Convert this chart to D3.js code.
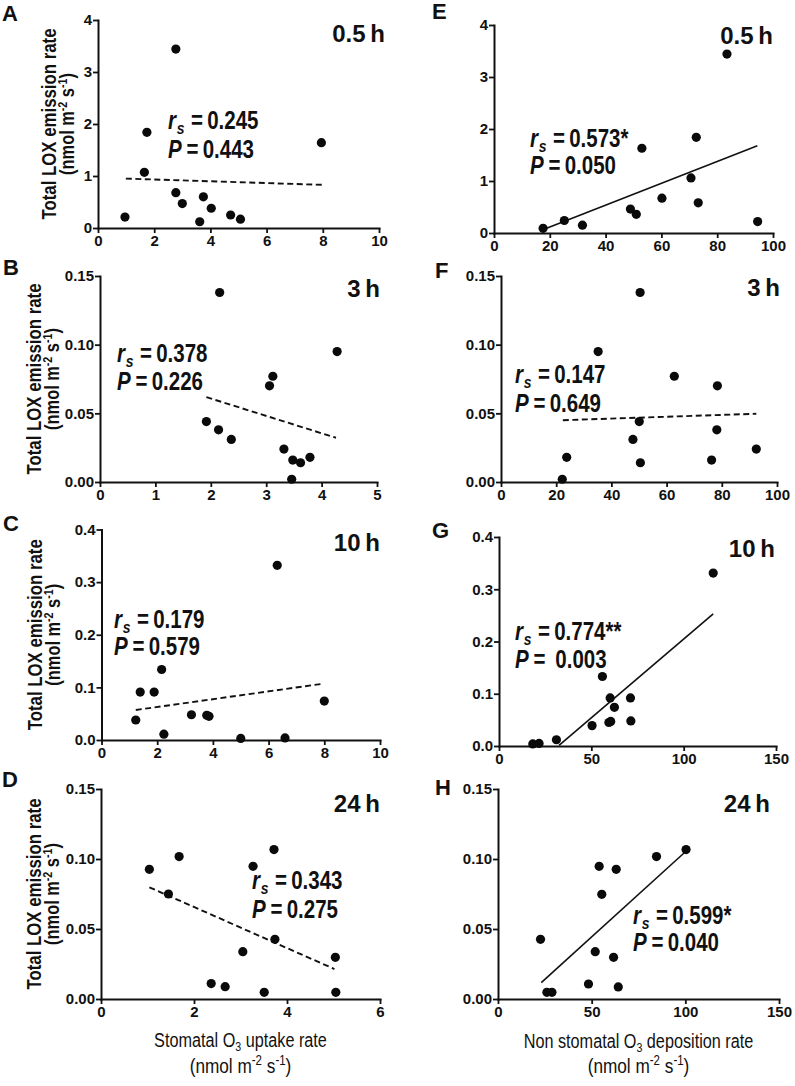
<!DOCTYPE html>
<html><head><meta charset="utf-8">
<script src="https://cdn.jsdelivr.net/npm/d3@7"></script>
<style>
body{margin:0;background:#fff}
svg{display:block}
text{font-family:"Liberation Sans",Arial,Helvetica,sans-serif;fill:#111}
</style>
</head><body>
<svg id="chart" width="795" height="1086"></svg>
<script>
// ---------------- DATA ----------------
const panelIds   = ["A","B","C","D","E","F","G","H"];
const timeLabels = ["0.5\u2009h","3\u2009h","10\u2009h","24\u2009h","0.5\u2009h","3\u2009h","10\u2009h","24\u2009h"];
const rsLabels   = ["0.245","0.378","0.179","0.343","0.573*","0.147","0.774**","0.599*"];
const pLabels    = ["0.443","0.226","0.579","0.275","0.050","0.649","\u00a00.003","0.040"];
const fitKinds   = ["dashed","dashed","dashed","dashed","solid","dashed","solid","solid"];

// stomatal O3 uptake (left column)
const xA = [0.96,1.65,1.74,2.77,2.77,3.00,3.62,3.75,4.03,4.72,5.07,7.95];
const yA = [0.21,1.07,1.84,3.44,0.68,0.47,0.12,0.60,0.38,0.25,0.17,1.64];
const xB = [1.92,2.14,2.16,2.37,3.06,3.12,3.32,3.48,3.46,3.62,3.79,4.28];
const yB = [0.044,0.038,0.138,0.031,0.070,0.077,0.024,0.016,0.002,0.014,0.018,0.095];
const xC = [1.23,1.39,1.89,2.16,2.24,3.23,3.78,3.86,5.00,6.31,6.59,8.00];
const yC = [0.038,0.091,0.091,0.134,0.011,0.048,0.047,0.045,0.003,0.332,0.004,0.074];
const xD = [1.04,1.45,1.68,2.37,2.67,3.05,3.27,3.51,3.72,3.74,5.04,5.05];
const yD = [0.0926,0.075,0.1017,0.011,0.0088,0.0338,0.0948,0.0048,0.1067,0.0426,0.0298,0.0048];
// non stomatal O3 deposition (right column)
const xE = [17.6,25.2,31.7,48.9,51.0,53.0,60.2,70.6,72.5,73.2,83.5,94.5];
const yE = [0.09,0.24,0.15,0.46,0.36,1.63,0.67,1.06,1.84,0.58,3.44,0.22];
const xF = [22.2,23.8,35.2,47.8,50.1,50.4,50.5,62.8,76.3,78.4,78.2,92.5];
const yF = [0.002,0.018,0.095,0.031,0.044,0.138,0.014,0.077,0.016,0.070,0.038,0.024];
const xG = [18.3,21.7,31.1,50.4,56.0,59.5,60.5,60.2,62.5,71.2,71.4,116.0];
const yG = [0.004,0.005,0.012,0.039,0.133,0.045,0.047,0.092,0.074,0.092,0.048,0.331];
const xH = [22.7,26.1,28.8,48.3,51.9,54.0,55.4,61.7,63.1,64.2,84.6,100.4];
const yH = [0.0426,0.0048,0.0048,0.0107,0.0338,0.0948,0.0748,0.0298,0.0926,0.0086,0.1017,0.1067];

// fitted regression line end points [[x1,y1],[x2,y2]]
const fitA = [[0.99,0.95],[7.98,0.83]];
const fitB = [[1.92,0.0618],[4.26,0.0322]];
const fitC = [[1.23,0.057],[7.96,0.107]];
const fitD = [[1.04,0.0798],[5.02,0.0214]];
const fitE = [[18.4,0.08],[94.4,1.68]];
const fitF = [[22.4,0.045],[92.5,0.0497]];
const fitG = [[32.5,0.001],[116.0,0.253]];
const fitH = [[23.1,0.0117],[99.9,0.105]];

// axis ticks
const xTicksA = [0,2,4,6,8,10],  yTicksA = [0,1,2,3,4];
const xTicksB = [0,1,2,3,4,5],   yTicksB = [0,0.05,0.10,0.15];
const xTicksC = [0,2,4,6,8,10],  yTicksC = [0,0.1,0.2,0.3,0.4];
const xTicksD = [0,2,4,6],       yTicksD = [0,0.05,0.10,0.15];
const xTicksE = [0,20,40,60,80,100], yTicksE = [0,1,2,3,4];
const xTicksF = [0,20,40,60,80,100], yTicksF = [0,0.05,0.10,0.15];
const xTicksG = [0,50,100,150],  yTicksG = [0,0.1,0.2,0.3,0.4];
const xTicksH = [0,50,100,150],  yTicksH = [0,0.05,0.10,0.15];
const yFormats = ["d",".2f",".1f",".2f","d",".2f",".1f",".2f"];

const yTitle1 = "Total LOX emission rate";
const xTitleLeft  = ["Stomatal O", "3", " uptake rate"];
const xTitleRight = ["Non stomatal O", "3", " deposition rate"];

// ---------------- LAYOUT ----------------
const layout = [
  {l:98,  r:379, t:20,  b:228, tx:385, ty:42,    lx:2,   ly:21,  sx:168, sy1:129,   sy2:158,   yl:56},
  {l:100, r:377, t:276, b:482, tx:380, ty:296.7, lx:3,   ly:275, sx:117, sy1:361.7, sy2:390,   yl:41},
  {l:101.5,r:380,t:529.5,b:740,tx:380, ty:550.7, lx:3,   ly:531, sx:114, sy1:628,   sy2:655,   yl:42},
  {l:101, r:380, t:789, b:999, tx:380, ty:811.7, lx:2,   ly:787, sx:252, sy1:889.3, sy2:918.3, yl:41},
  {l:494, r:773, t:25,  b:233, tx:773, ty:44,    lx:432, ly:18.5,sx:530, sy1:146.7, sy2:174},
  {l:501, r:777, t:276, b:482, tx:780, ty:296,   lx:435, ly:278, sx:515, sy1:383.3, sy2:411.7},
  {l:499, r:776, t:537, b:746, tx:775, ty:557.3, lx:432, ly:538, sx:515, sy1:640,   sy2:667.7},
  {l:498, r:779, t:789, b:999, tx:770, ty:811.7, lx:435, ly:795, sx:633, sy1:924,   sy2:951}
];

const xsAll = [xA,xB,xC,xD,xE,xF,xG,xH];
const ysAll = [yA,yB,yC,yD,yE,yF,yG,yH];
const fits  = [fitA,fitB,fitC,fitD,fitE,fitF,fitG,fitH];
const xTicks = [xTicksA,xTicksB,xTicksC,xTicksD,xTicksE,xTicksF,xTicksG,xTicksH];
const yTicks = [yTicksA,yTicksB,yTicksC,yTicksD,yTicksE,yTicksF,yTicksG,yTicksH];

const svg = d3.select("#chart");

// narrow font detection
function hasFont(name){
  const t = svg.append("text").style("font-size","40px").style("font-family",`"${name}", monospace`).text("abcdefghijklmnop");
  const w1 = t.node().getComputedTextLength();
  t.style("font-family","monospace");
  const w2 = t.node().getComputedTextLength();
  t.remove();
  return Math.abs(w1-w2) > 0.5;
}
const narrowOK = hasFont("Liberation Sans Narrow");
const NARROW = narrowOK ? '"Liberation Sans Narrow","Arial Narrow",sans-serif' : '"Liberation Sans",Arial,sans-serif';
const SQ = narrowOK ? "" : " scale(0.82,1)";   // fallback horizontal squeeze

panelIds.forEach((id,i)=>{
  const L = layout[i];
  const xt = xTicks[i], yt = yTicks[i];
  const x = d3.scaleLinear().domain([xt[0], xt[xt.length-1]]).range([L.l, L.r]);
  const y = d3.scaleLinear().domain([yt[0], yt[yt.length-1]]).range([L.b, L.t]);
  const g = svg.append("g");

  const ax = g.append("g").attr("transform",`translate(0,${L.b})`)
    .call(d3.axisBottom(x).tickValues(xt).tickFormat(d3.format("d")).tickSize(5).tickPadding(2).tickSizeOuter(0));
  const ay = g.append("g").attr("transform",`translate(${L.l},0)`)
    .call(d3.axisLeft(y).tickValues(yt).tickFormat(d3.format(yFormats[i])).tickSize(5).tickPadding(1).tickSizeOuter(0));
  [ax,ay].forEach(a=>{
    a.select(".domain").attr("stroke","#111").attr("stroke-width",2).attr("stroke-linecap","square");
    a.selectAll(".tick line").attr("stroke","#111").attr("stroke-width",1.8);
    a.selectAll(".tick text").attr("fill","#1a1a1a").style("font-size","15px").style("font-weight","bold")
      .style("font-family",'"Liberation Sans",Arial,sans-serif');
  });

  // fit line
  const f = fits[i];
  g.append("line")
    .attr("x1",x(f[0][0])).attr("y1",y(f[0][1]))
    .attr("x2",x(f[1][0])).attr("y2",y(f[1][1]))
    .attr("stroke","#111").attr("stroke-width",fitKinds[i]==="dashed" ? 1.9 : 1.6)
    .attr("stroke-dasharray", fitKinds[i]==="dashed" ? "6,3.5" : null);

  // points
  g.selectAll("circle.pt").data(d3.zip(xsAll[i], ysAll[i])).join("circle")
    .attr("class","pt").attr("cx",d=>x(d[0])).attr("cy",d=>y(d[1])).attr("r",4.6).attr("fill","#0a0a0a");

  // panel letter
  g.append("text").attr("x",L.lx).attr("y",L.ly).style("font-size","22px").style("font-weight","bold").text(id);

  // time label
  g.append("text").attr("x",L.tx).attr("y",L.ty).attr("text-anchor","end")
    .style("font-size","24px").style("font-weight","bold").text(timeLabels[i]);

  // statistics
  const s1 = g.append("text").attr("transform",`translate(${L.sx},${L.sy1})${SQ}`)
    .style("font-family",NARROW).style("font-size","25px").style("font-weight","bold");
  s1.append("tspan").style("font-style","italic").text("r");
  s1.append("tspan").style("font-style","italic").style("font-size","17px").attr("dx",1).attr("dy",5).text("s");
  s1.append("tspan").attr("dx",1).attr("dy",-5).text("\u00a0=\u20090"+rsLabels[i].slice(1));
  const s2 = g.append("text").attr("transform",`translate(${L.sx},${L.sy2})${SQ}`)
    .style("font-family",NARROW).style("font-size","25px").style("font-weight","bold");
  s2.append("tspan").style("font-style","italic").text("P");
  s2.append("tspan").attr("dx",1).text("\u2009=\u2009"+pLabels[i]);

  // y title (left column only)
  if (i < 4) {
    const cy = (L.t + L.b)/2;
    g.append("text").attr("transform",`translate(${L.yl},${cy}) rotate(-90)${SQ}`)
      .attr("text-anchor","middle").style("font-family",NARROW).style("font-size","20.5px").style("font-weight","bold").text(yTitle1);
    const t2 = g.append("text").attr("transform",`translate(${L.yl+18},${cy}) rotate(-90)${SQ}`)
      .attr("text-anchor","middle").style("font-family",NARROW).style("font-size","20px").style("font-weight","bold");
    t2.append("tspan").text("(nmol m");
    t2.append("tspan").attr("dy",-7).style("font-size","13px").text("-2");
    t2.append("tspan").attr("dy",7).text(" s");
    t2.append("tspan").attr("dy",-7).style("font-size","13px").text("-1");
    t2.append("tspan").attr("dy",7).text(")");
  }

  // x title (bottom row only)
  if (i === 3 || i === 7) {
    const cx = (L.l + L.r)/2;
    const parts = i===3 ? xTitleLeft : xTitleRight;
    const xt1 = g.append("text").attr("transform",`translate(${cx},${i===3?1046.5:1047.5})${SQ}`)
      .attr("text-anchor","middle").style("font-family",NARROW).style("font-size","19.8px");
    xt1.append("tspan").text(parts[0]);
    xt1.append("tspan").attr("dy",4).style("font-size","13px").text(parts[1]);
    xt1.append("tspan").attr("dy",-4).text(parts[2]);
    const xt2 = g.append("text").attr("transform",`translate(${cx},${i===3?1072.5:1073})${SQ}`)
      .attr("text-anchor","middle").style("font-family",NARROW).style("font-size","21px");
    xt2.append("tspan").text("(nmol m");
    xt2.append("tspan").attr("dy",-8).style("font-size","14px").text("-2");
    xt2.append("tspan").attr("dy",8).text(" s");
    xt2.append("tspan").attr("dy",-8).style("font-size","14px").text("-1");
    xt2.append("tspan").attr("dy",8).text(")");
  }
});
</script>
</body></html>
